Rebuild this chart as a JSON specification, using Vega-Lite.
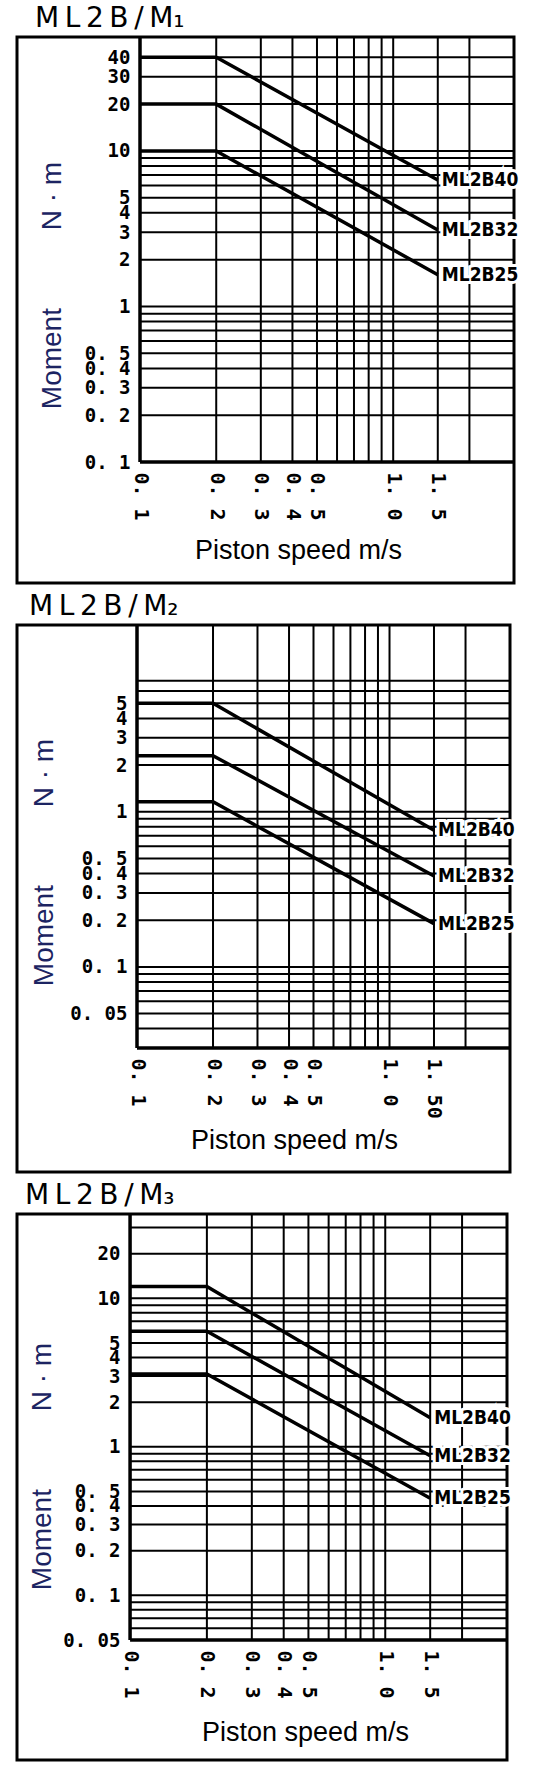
{
  "$schema": "https://vega.github.io/schema/vega-lite/v6.json",
  "background": "white",
  "padding": {"top": 3, "left": 15, "right": 0, "bottom": 0},
  "spacing": 6,
  "config": {
    "view": {"stroke": "black", "strokeWidth": 3},
    "title": {"anchor": "start", "frame": "group", "font": "DejaVu Sans", "fontSize": 28, "fontWeight": "normal", "color": "black", "offset": 2},
    "axis": {"domain": false, "ticks": false, "grid": false, "labelFont": "DejaVu Sans Mono", "labelFontWeight": "bold", "labelFontSize": 19, "labelColor": "black", "labelOverlap": false, "labelFlush": false, "labelPadding": 10, "titleFont": "Liberation Sans", "titleFontSize": 28, "titleFontWeight": "normal"},
    "axisX": {"labelAngle": 90, "labelAlign": "left", "labelBaseline": "middle", "labelFontSize": 20, "titleColor": "black", "titleFontSize": 27, "titleBaseline": "alphabetic", "titleAlign": "center"},
    "axisY": {"titleColor": "#1c2462", "titleAngle": -90, "titleBaseline": "middle", "titleAlign": "center"}
  },
  "datasets": {
    "vg": [
      {"kind": "border", "v": 0.1}, {"kind": "grid", "v": 0.2}, {"kind": "grid", "v": 0.3}, {"kind": "grid", "v": 0.4},
      {"kind": "grid", "v": 0.5}, {"kind": "grid", "v": 0.6}, {"kind": "grid", "v": 0.7}, {"kind": "grid", "v": 0.8},
      {"kind": "grid", "v": 0.9}, {"kind": "grid", "v": 1}, {"kind": "grid", "v": 1.5}, {"kind": "grid", "v": 2}
    ],
    "h1": [
      {"kind": "border", "v": 0.1}, {"kind": "grid", "v": 0.2}, {"kind": "grid", "v": 0.3}, {"kind": "grid", "v": 0.4},
      {"kind": "grid", "v": 0.5}, {"kind": "grid", "v": 0.6}, {"kind": "grid", "v": 0.7}, {"kind": "grid", "v": 0.8},
      {"kind": "grid", "v": 0.9}, {"kind": "grid", "v": 1}, {"kind": "grid", "v": 2}, {"kind": "grid", "v": 3},
      {"kind": "grid", "v": 4}, {"kind": "grid", "v": 5}, {"kind": "grid", "v": 6}, {"kind": "grid", "v": 7},
      {"kind": "grid", "v": 8}, {"kind": "grid", "v": 9}, {"kind": "grid", "v": 10}, {"kind": "grid", "v": 20},
      {"kind": "grid", "v": 30}, {"kind": "grid", "v": 40}
    ],
    "h2": [
      {"kind": "border", "v": 0.03}, {"kind": "grid", "v": 0.04}, {"kind": "grid", "v": 0.05}, {"kind": "grid", "v": 0.06},
      {"kind": "grid", "v": 0.07}, {"kind": "grid", "v": 0.08}, {"kind": "grid", "v": 0.09}, {"kind": "grid", "v": 0.1},
      {"kind": "grid", "v": 0.2}, {"kind": "grid", "v": 0.3}, {"kind": "grid", "v": 0.4}, {"kind": "grid", "v": 0.5},
      {"kind": "grid", "v": 0.6}, {"kind": "grid", "v": 0.7}, {"kind": "grid", "v": 0.8}, {"kind": "grid", "v": 0.9},
      {"kind": "grid", "v": 1}, {"kind": "grid", "v": 2}, {"kind": "grid", "v": 3}, {"kind": "grid", "v": 4},
      {"kind": "grid", "v": 5}, {"kind": "grid", "v": 6}, {"kind": "grid", "v": 7}
    ],
    "h3": [
      {"kind": "border", "v": 0.05}, {"kind": "grid", "v": 0.06}, {"kind": "grid", "v": 0.07}, {"kind": "grid", "v": 0.08},
      {"kind": "grid", "v": 0.09}, {"kind": "grid", "v": 0.1}, {"kind": "grid", "v": 0.2}, {"kind": "grid", "v": 0.3},
      {"kind": "grid", "v": 0.4}, {"kind": "grid", "v": 0.5}, {"kind": "grid", "v": 0.6}, {"kind": "grid", "v": 0.7},
      {"kind": "grid", "v": 0.8}, {"kind": "grid", "v": 0.9}, {"kind": "grid", "v": 1}, {"kind": "grid", "v": 2},
      {"kind": "grid", "v": 3}, {"kind": "grid", "v": 4}, {"kind": "grid", "v": 5}, {"kind": "grid", "v": 6},
      {"kind": "grid", "v": 7}, {"kind": "grid", "v": 8}, {"kind": "grid", "v": 9}, {"kind": "grid", "v": 10},
      {"kind": "grid", "v": 20}, {"kind": "grid", "v": 30}
    ],
    "c1": [
      {"series": "ML2B40", "speed": 0.1, "moment": 40}, {"series": "ML2B40", "speed": 0.2, "moment": 40}, {"series": "ML2B40", "speed": 1.5, "moment": 6.5},
      {"series": "ML2B32", "speed": 0.1, "moment": 20}, {"series": "ML2B32", "speed": 0.2, "moment": 20}, {"series": "ML2B32", "speed": 1.5, "moment": 3.1},
      {"series": "ML2B25", "speed": 0.1, "moment": 10}, {"series": "ML2B25", "speed": 0.2, "moment": 10}, {"series": "ML2B25", "speed": 1.5, "moment": 1.6}
    ],
    "c2": [
      {"series": "ML2B40", "speed": 0.1, "moment": 5}, {"series": "ML2B40", "speed": 0.2, "moment": 5}, {"series": "ML2B40", "speed": 1.5, "moment": 0.76},
      {"series": "ML2B32", "speed": 0.1, "moment": 2.3}, {"series": "ML2B32", "speed": 0.2, "moment": 2.3}, {"series": "ML2B32", "speed": 1.5, "moment": 0.385},
      {"series": "ML2B25", "speed": 0.1, "moment": 1.16}, {"series": "ML2B25", "speed": 0.2, "moment": 1.16}, {"series": "ML2B25", "speed": 1.5, "moment": 0.19}
    ],
    "c3": [
      {"series": "ML2B40", "speed": 0.1, "moment": 12}, {"series": "ML2B40", "speed": 0.2, "moment": 12}, {"series": "ML2B40", "speed": 1.5, "moment": 1.57},
      {"series": "ML2B32", "speed": 0.1, "moment": 6}, {"series": "ML2B32", "speed": 0.2, "moment": 6}, {"series": "ML2B32", "speed": 1.5, "moment": 0.87},
      {"series": "ML2B25", "speed": 0.1, "moment": 3.1}, {"series": "ML2B25", "speed": 0.2, "moment": 3.1}, {"series": "ML2B25", "speed": 1.5, "moment": 0.45}
    ]
  },
  "vconcat": [
    {
      "width": 497, "height": 546,
      "title": {"text": "M\u2009L\u20092\u2009B\u2009/\u2009M\u2081", "dx": 18},
      "layer": [
        {
          "data": {"name": "h1"},
          "mark": {"type": "rule", "color": "black"},
          "encoding": {
            "y": {"field": "v", "type": "quantitative", "scale": {"type": "log", "domain": [0.0167, 54], "nice": false}},
            "x": {"datum": 0.1, "type": "quantitative", "scale": {"type": "log", "domain": [0.03267, 3], "nice": false}},
            "x2": {"datum": 3},
            "strokeWidth": {"field": "kind", "type": "ordinal", "scale": {"domain": ["grid", "border"], "range": [2, 3.5]}, "legend": null}
          }
        },
        {
          "data": {"name": "vg"},
          "mark": {"type": "rule", "color": "black"},
          "encoding": {
            "x": {"field": "v", "type": "quantitative", "scale": {"type": "log", "domain": [0.03267, 3], "nice": false}},
            "y": {"datum": 0.1, "type": "quantitative", "scale": {"type": "log", "domain": [0.0167, 54], "nice": false}},
            "y2": {"datum": 54},
            "strokeWidth": {"field": "kind", "type": "ordinal", "scale": {"domain": ["grid", "border"], "range": [2, 3.5]}, "legend": null}
          }
        },
        {
          "data": {"name": "c1"},
          "mark": {"type": "line", "color": "black", "strokeWidth": 3.5},
          "encoding": {
            "x": {"field": "speed", "type": "quantitative", "scale": {"type": "log", "domain": [0.03267, 3], "nice": false},
              "axis": {"values": [0.1, 0.2, 0.3, 0.4, 0.5, 1, 1.5],
                "labelExpr": "replace(format(datum.value, '.1f'), '.', '. ')",
                "offset": -121, "title": "Piston speed m/s", "titleX": 281, "titleY": 96}},
            "y": {"field": "moment", "type": "quantitative", "scale": {"type": "log", "domain": [0.0167, 54], "nice": false},
              "axis": {"values": [0.1, 0.2, 0.3, 0.4, 0.5, 1, 2, 3, 4, 5, 10, 20, 30, 40],
                "labelExpr": "datum.value >= 1 ? format(datum.value, 'd') : replace(format(datum.value, '.2~f'), '.', '. ')",
                "offset": -123, "title": "Moment\u00a0\u00a0\u00a0\u00a0\u00a0\u00a0\u00a0\u00a0\u00a0\u00a0N · m", "titleX": -88, "titleY": 248}},
            "detail": {"field": "series"}
          }
        },
        {
          "data": {"name": "c1"},
          "transform": [{"filter": "datum.speed == 1.5"}],
          "mark": {"type": "text", "align": "left", "baseline": "middle", "dx": 4, "font": "DejaVu Sans Condensed", "fontWeight": "bold", "fontSize": 19, "color": "white", "stroke": "white", "strokeWidth": 6},
          "encoding": {
            "x": {"field": "speed", "type": "quantitative", "scale": {"type": "log", "domain": [0.03267, 3], "nice": false}},
            "y": {"field": "moment", "type": "quantitative", "scale": {"type": "log", "domain": [0.0167, 54], "nice": false}},
            "text": {"field": "series"}
          }
        },
        {
          "data": {"name": "c1"},
          "transform": [{"filter": "datum.speed == 1.5"}],
          "mark": {"type": "text", "align": "left", "baseline": "middle", "dx": 4, "font": "DejaVu Sans Condensed", "fontWeight": "bold", "fontSize": 19, "color": "black"},
          "encoding": {
            "x": {"field": "speed", "type": "quantitative", "scale": {"type": "log", "domain": [0.03267, 3], "nice": false}},
            "y": {"field": "moment", "type": "quantitative", "scale": {"type": "log", "domain": [0.0167, 54], "nice": false}},
            "text": {"field": "series"}
          }
        }
      ]
    },
    {
      "width": 493, "height": 547,
      "title": {"text": "M\u2009L\u20092\u2009B\u2009/\u2009M\u2082", "dx": 12},
      "layer": [
        {
          "data": {"name": "h2"},
          "mark": {"type": "rule", "color": "black"},
          "encoding": {
            "y": {"field": "v", "type": "quantitative", "scale": {"type": "log", "domain": [0.00476, 16], "nice": false}},
            "x": {"datum": 0.1, "type": "quantitative", "scale": {"type": "log", "domain": [0.03348, 3], "nice": false}},
            "x2": {"datum": 3},
            "strokeWidth": {"field": "kind", "type": "ordinal", "scale": {"domain": ["grid", "border"], "range": [2, 3.5]}, "legend": null}
          }
        },
        {
          "data": {"name": "vg"},
          "mark": {"type": "rule", "color": "black"},
          "encoding": {
            "x": {"field": "v", "type": "quantitative", "scale": {"type": "log", "domain": [0.03348, 3], "nice": false}},
            "y": {"datum": 0.03, "type": "quantitative", "scale": {"type": "log", "domain": [0.00476, 16], "nice": false}},
            "y2": {"datum": 16},
            "strokeWidth": {"field": "kind", "type": "ordinal", "scale": {"domain": ["grid", "border"], "range": [2, 3.5]}, "legend": null}
          }
        },
        {
          "data": {"name": "c2"},
          "mark": {"type": "line", "color": "black", "strokeWidth": 3.5},
          "encoding": {
            "x": {"field": "speed", "type": "quantitative", "scale": {"type": "log", "domain": [0.03348, 3], "nice": false},
              "axis": {"values": [0.1, 0.2, 0.3, 0.4, 0.5, 1, 1.5],
                "labelExpr": "datum.value == 1.5 ? '1. 50' : replace(format(datum.value, '.1f'), '.', '. ')",
                "offset": -124, "title": "Piston speed m/s", "titleX": 277, "titleY": 100}},
            "y": {"field": "moment", "type": "quantitative", "scale": {"type": "log", "domain": [0.00476, 16], "nice": false},
              "axis": {"values": [0.05, 0.1, 0.2, 0.3, 0.4, 0.5, 1, 2, 3, 4, 5],
                "labelExpr": "datum.value >= 1 ? format(datum.value, 'd') : replace(format(datum.value, '.2~f'), '.', '. ')",
                "offset": -120, "title": "Moment\u00a0\u00a0\u00a0\u00a0\u00a0\u00a0\u00a0\u00a0\u00a0\u00a0N · m", "titleX": -93, "titleY": 237}},
            "detail": {"field": "series"}
          }
        },
        {
          "data": {"name": "c2"},
          "transform": [{"filter": "datum.speed == 1.5"}],
          "mark": {"type": "text", "align": "left", "baseline": "middle", "dx": 4, "font": "DejaVu Sans Condensed", "fontWeight": "bold", "fontSize": 19, "color": "white", "stroke": "white", "strokeWidth": 6},
          "encoding": {
            "x": {"field": "speed", "type": "quantitative", "scale": {"type": "log", "domain": [0.03348, 3], "nice": false}},
            "y": {"field": "moment", "type": "quantitative", "scale": {"type": "log", "domain": [0.00476, 16], "nice": false}},
            "text": {"field": "series"}
          }
        },
        {
          "data": {"name": "c2"},
          "transform": [{"filter": "datum.speed == 1.5"}],
          "mark": {"type": "text", "align": "left", "baseline": "middle", "dx": 4, "font": "DejaVu Sans Condensed", "fontWeight": "bold", "fontSize": 19, "color": "black"},
          "encoding": {
            "x": {"field": "speed", "type": "quantitative", "scale": {"type": "log", "domain": [0.03348, 3], "nice": false}},
            "y": {"field": "moment", "type": "quantitative", "scale": {"type": "log", "domain": [0.00476, 16], "nice": false}},
            "text": {"field": "series"}
          }
        }
      ]
    },
    {
      "width": 490, "height": 546,
      "title": {"text": "M\u2009L\u20092\u2009B\u2009/\u2009M\u2083", "dx": 8},
      "layer": [
        {
          "data": {"name": "h3"},
          "mark": {"type": "rule", "color": "black"},
          "encoding": {
            "y": {"field": "v", "type": "quantitative", "scale": {"type": "log", "domain": [0.00778, 37], "nice": false}},
            "x": {"datum": 0.1, "type": "quantitative", "scale": {"type": "log", "domain": [0.03605, 3], "nice": false}},
            "x2": {"datum": 3},
            "strokeWidth": {"field": "kind", "type": "ordinal", "scale": {"domain": ["grid", "border"], "range": [2, 3.5]}, "legend": null}
          }
        },
        {
          "data": {"name": "vg"},
          "mark": {"type": "rule", "color": "black"},
          "encoding": {
            "x": {"field": "v", "type": "quantitative", "scale": {"type": "log", "domain": [0.03605, 3], "nice": false}},
            "y": {"datum": 0.05, "type": "quantitative", "scale": {"type": "log", "domain": [0.00778, 37], "nice": false}},
            "y2": {"datum": 37},
            "strokeWidth": {"field": "kind", "type": "ordinal", "scale": {"domain": ["grid", "border"], "range": [2, 3.5]}, "legend": null}
          }
        },
        {
          "data": {"name": "c3"},
          "mark": {"type": "line", "color": "black", "strokeWidth": 3.5},
          "encoding": {
            "x": {"field": "speed", "type": "quantitative", "scale": {"type": "log", "domain": [0.03605, 3], "nice": false},
              "axis": {"values": [0.1, 0.2, 0.3, 0.4, 0.5, 1, 1.5],
                "labelExpr": "replace(format(datum.value, '.1f'), '.', '. ')",
                "offset": -120, "title": "Piston speed m/s", "titleX": 288, "titleY": 100}},
            "y": {"field": "moment", "type": "quantitative", "scale": {"type": "log", "domain": [0.00778, 37], "nice": false},
              "axis": {"values": [0.05, 0.1, 0.2, 0.3, 0.4, 0.5, 1, 2, 3, 4, 5, 10, 20],
                "labelExpr": "datum.value >= 1 ? format(datum.value, 'd') : replace(format(datum.value, '.2~f'), '.', '. ')",
                "offset": -113, "title": "Moment\u00a0\u00a0\u00a0\u00a0\u00a0\u00a0\u00a0\u00a0\u00a0\u00a0N · m", "titleX": -88, "titleY": 252}},
            "detail": {"field": "series"}
          }
        },
        {
          "data": {"name": "c3"},
          "transform": [{"filter": "datum.speed == 1.5"}],
          "mark": {"type": "text", "align": "left", "baseline": "middle", "dx": 4, "font": "DejaVu Sans Condensed", "fontWeight": "bold", "fontSize": 19, "color": "white", "stroke": "white", "strokeWidth": 6},
          "encoding": {
            "x": {"field": "speed", "type": "quantitative", "scale": {"type": "log", "domain": [0.03605, 3], "nice": false}},
            "y": {"field": "moment", "type": "quantitative", "scale": {"type": "log", "domain": [0.00778, 37], "nice": false}},
            "text": {"field": "series"}
          }
        },
        {
          "data": {"name": "c3"},
          "transform": [{"filter": "datum.speed == 1.5"}],
          "mark": {"type": "text", "align": "left", "baseline": "middle", "dx": 4, "font": "DejaVu Sans Condensed", "fontWeight": "bold", "fontSize": 19, "color": "black"},
          "encoding": {
            "x": {"field": "speed", "type": "quantitative", "scale": {"type": "log", "domain": [0.03605, 3], "nice": false}},
            "y": {"field": "moment", "type": "quantitative", "scale": {"type": "log", "domain": [0.00778, 37], "nice": false}},
            "text": {"field": "series"}
          }
        }
      ]
    }
  ]
}
